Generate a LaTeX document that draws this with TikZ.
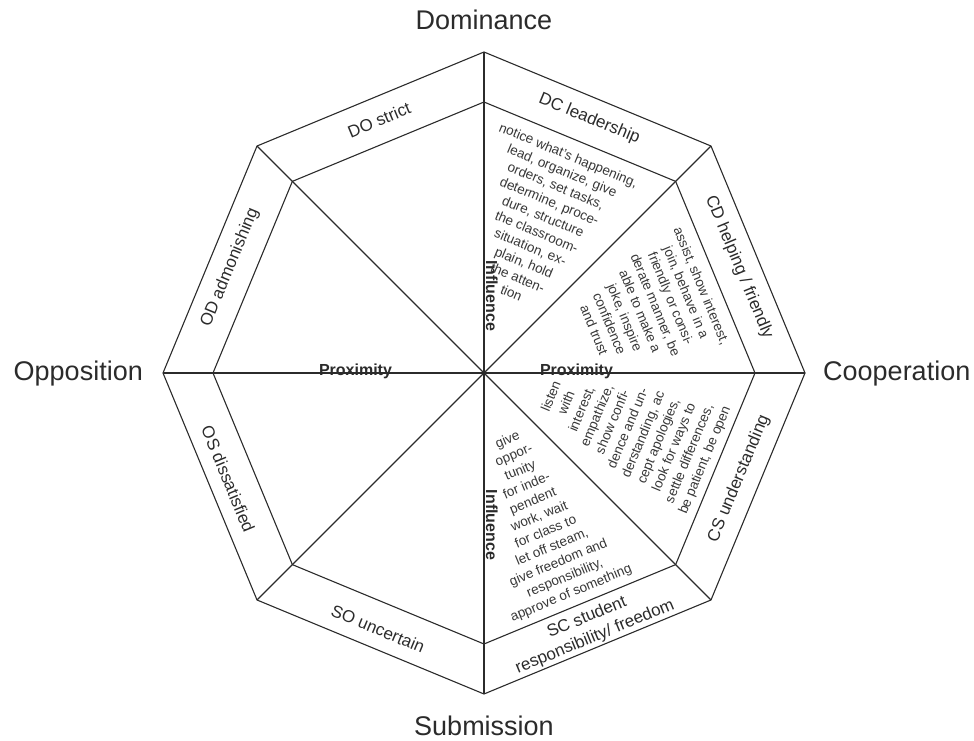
\documentclass[tikz,border=0pt]{standalone}
\usepackage{fontspec}
\setmainfont{Liberation Sans}
\usetikzlibrary{calc}
\definecolor{ink}{HTML}{2B2B2B}
\definecolor{txt}{HTML}{383838}
\tikzset{
  edge/.style={draw=ink, line width=1.1pt, line join=miter},
  head/.style={font=\fontsize{27}{32}\selectfont, text=ink, inner sep=0pt},
  band/.style={font=\fontsize{17}{21}\selectfont, text=ink, inner sep=0pt, align=center},
  desc/.style={font=\fontsize{13.5}{16.6}\selectfont, text=txt, inner sep=0pt, align=center},
  axislbl/.style={font=\bfseries\fontsize{16}{18}\selectfont, text=ink, inner sep=0pt},
}
\begin{document}
\begin{tikzpicture}[x=1pt,y=1pt]
\useasboundingbox (0,0) rectangle (974,740);
\coordinate (C) at (484,367);
\foreach \i in {0,...,7} {
  \coordinate (O\i) at ($(C)+(\i*45:321)$);
  \coordinate (I\i) at ($(C)+(\i*45:271)$);
}
% octagons and radial lines
\draw[edge] (O0)--(O1)--(O2)--(O3)--(O4)--(O5)--(O6)--(O7)--cycle;
\draw[edge] (I0)--(I1)--(I2)--(I3)--(I4)--(I5)--(I6)--(I7)--cycle;
\draw[edge] (O0)--(O4);
\draw[edge] (O1)--(O5);
\draw[edge] (O2)--(O6);
\draw[edge] (O3)--(O7);
% headings
\node[head, anchor=base] (dom) at (484,710) {Dominance};
\node[head, anchor=base] (sub) at (484,5) {Submission};
\node[head, anchor=base west] (coop) at (823,360) {Cooperation};
\node[head, anchor=base east] (opp) at (143,360) {Opposition};
% band labels
\node[band, rotate=-22.5] (ndc) at ($(C)+(67.5:275)$) {DC leadership};
\node[band, rotate=-67.5] (ncd) at ($(C)+(22.5:276)$) {CD helping / friendly};
\node[band, rotate=67.5] (ncs) at ($(C)+(-22.5:276)$) {CS understanding};
\node[band, rotate=22.5] (nsc) at ($(C)+(-67.2:276)$) {SC student\\responsibility/ freedom};
\node[band, rotate=-22.5] (nso) at ($(C)+(-112.5:277)$) {SO uncertain};
\node[band, rotate=-67.5] (nos) at ($(C)+(-157.5:277)$) {OS dissatisfied};
\node[band, rotate=67.5] (nod) at ($(C)+(157.5:275)$) {OD admonishing};
\node[band, rotate=22.5] (ndo) at ($(C)+(112.5:274)$) {DO strict};
% descriptive texts
\node[desc, rotate=-22.5] (dctext) at ($(C)+(56,149)$) {notice what's happening,\\lead, organize, give\\orders, set tasks,\\determine, proce-\\dure, structure\\the classroom-\\situation, ex-\\plain, hold\\the atten-\\tion};
\node[desc, rotate=-67.5] (cdtext) at ($(C)+(164,65)$) {assist, show interest,\\join, behave in a\\friendly or consi-\\derate manner, be\\able to make a\\joke, inspire\\confidence\\and trust};
\node[desc, rotate=67.5] (cstext) at ($(C)+(144.5,-55.5)$) {listen\\with\\interest,\\empathize,\\show confi-\\dence and un-\\derstanding, ac\\cept apologies,\\look for ways to\\settle differences,\\be patient, be open};
\node[desc, rotate=22.5] (sctext) at ($(C)+(55.5,-144)$) {give\\oppor-\\tunity\\for inde-\\pendent\\work, wait\\for class to\\let off steam,\\give freedom and\\responsibility,\\approve of something};
% axis labels
\node[axislbl, anchor=base] (proxL) at (355.5,364.5) {Proximity};
\node[axislbl, anchor=base] (proxR) at (576.5,364.5) {Proximity};
\node[axislbl, anchor=base, rotate=-90] (inflU) at (486,444) {Influence};
\node[axislbl, anchor=base, rotate=-90] (inflL) at (486,215) {Influence};
\end{tikzpicture}
\end{document}
